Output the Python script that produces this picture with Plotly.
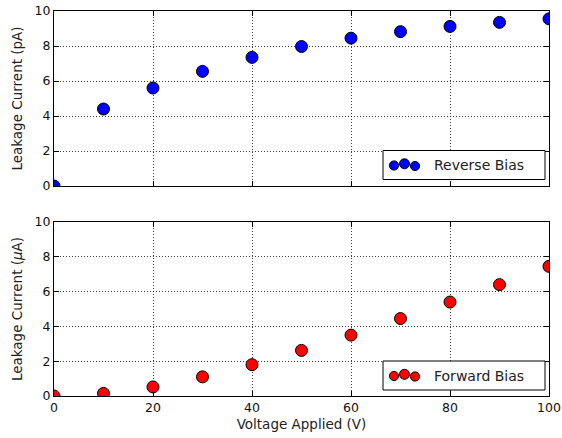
import plotly.graph_objects as go
from plotly.subplots import make_subplots

voltage = [0, 10, 20, 30, 40, 50, 60, 70, 80, 90, 100]
reverse_pA = [0.0, 4.4, 5.6, 6.55, 7.35, 7.97, 8.45, 8.82, 9.12, 9.35, 9.55]
forward_uA = [0.0, 0.15, 0.52, 1.1, 1.8, 2.62, 3.5, 4.45, 5.4, 6.4, 7.45]
x_ticks = [0, 20, 40, 60, 80, 100]
y_ticks = [0, 2, 4, 6, 8, 10]

W, H = 562, 438
L, R, T, B = 54, 13, 11, 42
PW, PH = W - L - R, H - T - B

def px(x):
    return (x - L) / PW

def py(y):
    return (H - B - y) / PH

fig = make_subplots(rows=2, cols=1, shared_xaxes=False)
fig.add_trace(go.Scatter(x=voltage, y=reverse_pA, mode="markers", name="Reverse Bias",
                         marker=dict(color="#0000ff", size=12, line=dict(color="black", width=1)),
                         cliponaxis=True, showlegend=False), row=1, col=1)
fig.add_trace(go.Scatter(x=voltage, y=forward_uA, mode="markers", name="Forward Bias",
                         marker=dict(color="#ff0000", size=12, line=dict(color="black", width=1)),
                         cliponaxis=True, showlegend=False), row=2, col=1)

axis_common = dict(showline=True, linecolor="black", linewidth=1, mirror="ticks",
                   ticks="inside", ticklen=5, tickcolor="black", automargin=False,
                   showgrid=True, gridcolor="rgba(0,0,0,0.75)", griddash="1px,2px", gridwidth=1,
                   zeroline=False, tickfont=dict(family="DejaVu Sans", size=12.5, color="#111"))

title_font = dict(family="DejaVu Sans", size=13.5, color="#222")
fig.update_xaxes(range=[0, 100], tickvals=x_ticks, **axis_common)
fig.update_yaxes(range=[0, 10], tickvals=y_ticks, **axis_common)
fig.update_xaxes(showticklabels=False, row=1, col=1)
fig.update_xaxes(title=dict(text="Voltage Applied (V)", font=title_font, standoff=5), row=2, col=1)
fig.update_yaxes(title=dict(text="Leakage Current (pA)", font=title_font, standoff=8), row=1, col=1)
fig.update_yaxes(title=dict(text="Leakage Current (<i>μ</i>A)", font=title_font, standoff=8), row=2, col=1)

fig.update_layout(
    xaxis=dict(domain=[0, 1]), xaxis2=dict(domain=[0, 1]),
    yaxis=dict(domain=[py(186), py(11)]), yaxis2=dict(domain=[py(396), py(222)]),
)

shapes = []
annotations = []
legends = [(150.5, 179.5, "#0000ff", "Reverse Bias"), (361, 390, "#ff0000", "Forward Bias")]
for y0, y1, col, label in legends:
    shapes.append(dict(type="rect", xref="paper", yref="paper", x0=px(383), x1=px(545),
                       y0=py(y1), y1=py(y0), line=dict(color="black", width=1), fillcolor="white", layer="above"))
    yc = (y0 + y1) / 2
    for cx, cy, r in [(394, yc + 0.5, 4.6), (404.5, yc - 1.2, 5.0), (415, yc + 1.0, 4.6)]:
        shapes.append(dict(type="circle", xref="paper", yref="paper",
                           x0=px(cx - r), x1=px(cx + r), y0=py(cy + r), y1=py(cy - r),
                           fillcolor=col, line=dict(color="black", width=1), layer="above"))
    annotations.append(dict(text=label, xref="paper", yref="paper", x=px(432), y=py(yc),
                            xanchor="left", yanchor="middle", showarrow=False,
                            font=dict(family="DejaVu Sans", size=14, color="#222")))

fig.update_layout(width=W, height=H, margin=dict(l=L, r=R, t=T, b=B),
                  plot_bgcolor="white", paper_bgcolor="white", showlegend=False,
                  shapes=shapes, annotations=annotations)

fig.write_html("out.html", config={"displayModeBar": False},
               post_script="document.body.style.margin='0';document.body.style.overflow='hidden';")
